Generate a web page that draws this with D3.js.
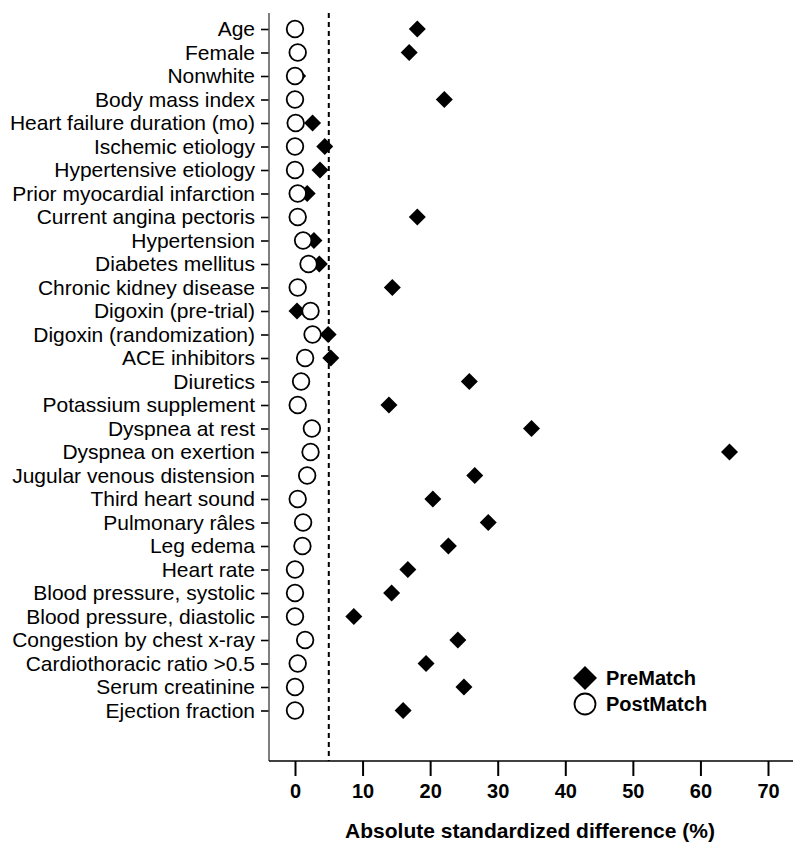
<!DOCTYPE html>
<html>
<head>
<meta charset="utf-8">
<script src="https://cdn.jsdelivr.net/npm/d3@7"></script>
<style>
  html, body { margin: 0; padding: 0; background: #fff; }
  svg { display: block; }
  text { font-family: "Liberation Sans", Arial, sans-serif; }
</style>
</head>
<body>
<svg id="chart" width="800" height="856"></svg>
<script>
const categories = [
  "Age", "Female", "Nonwhite", "Body mass index", "Heart failure duration (mo)",
  "Ischemic etiology", "Hypertensive etiology", "Prior myocardial infarction",
  "Current angina pectoris", "Hypertension", "Diabetes mellitus",
  "Chronic kidney disease", "Digoxin (pre-trial)", "Digoxin (randomization)",
  "ACE inhibitors", "Diuretics", "Potassium supplement", "Dyspnea at rest",
  "Dyspnea on exertion", "Jugular venous distension", "Third heart sound",
  "Pulmonary râles", "Leg edema", "Heart rate", "Blood pressure, systolic",
  "Blood pressure, diastolic", "Congestion by chest x-ray",
  "Cardiothoracic ratio >0.5", "Serum creatinine", "Ejection fraction"
];
const preMatch = [
  18.1, 16.9, 0.4, 22.1, 2.6, 4.4, 3.7, 1.8, 18.1, 2.8,
  3.6, 14.4, 0.3, 4.9, 5.3, 25.8, 13.9, 35.0, 64.3, 26.6,
  20.4, 28.6, 22.7, 16.7, 14.3, 8.7, 24.1, 19.4, 25.0, 16.0
];
const postMatch = [
  0.0, 0.4, 0.0, 0.0, 0.1, 0.0, 0.0, 0.4, 0.4, 1.2,
  2.0, 0.4, 2.3, 2.6, 1.5, 0.9, 0.4, 2.5, 2.3, 1.8,
  0.4, 1.2, 1.1, 0.0, 0.0, 0.0, 1.5, 0.4, 0.0, 0.0
];
const xTicks = [0, 10, 20, 30, 40, 50, 60, 70];
const threshold = 5;
const seriesNames = ["PreMatch", "PostMatch"];
const xTitle = "Absolute standardized difference (%)";

const svg = d3.select("#chart");
const plotLeft = 269, plotRight = 793, plotTop = 13, plotBottom = 761;

const x = d3.scaleLinear().domain([0, 70]).range([295, 768]);
const y = d3.scalePoint().domain(categories).range([29, 710.5]);

// y axis
const yAxis = svg.append("g").attr("transform", `translate(${plotLeft},0)`)
  .call(d3.axisLeft(y).tickSize(8).tickPadding(6));
yAxis.select(".domain").remove();
yAxis.selectAll(".tick line").attr("stroke", "#000").attr("stroke-width", 1.6);
yAxis.selectAll(".tick text").attr("font-size", 21).attr("fill", "#000")
  .style("font-family", "'Liberation Sans', Arial, sans-serif");
svg.append("line").attr("x1", plotLeft).attr("x2", plotLeft).attr("y1", plotTop).attr("y2", plotBottom)
  .attr("stroke", "#555").attr("stroke-width", 1.5);

// x axis
const xAxis = svg.append("g").attr("transform", `translate(0,${plotBottom})`)
  .call(d3.axisBottom(x).tickValues(xTicks).tickSize(15).tickPadding(8).tickFormat(d3.format("d")));
xAxis.select(".domain").remove();
xAxis.selectAll(".tick line").attr("stroke", "#000").attr("stroke-width", 2);
xAxis.selectAll(".tick text").attr("font-size", 20).attr("font-weight", "bold").attr("fill", "#000")
  .style("font-family", "'Liberation Sans', Arial, sans-serif");
svg.append("line").attr("x1", plotLeft).attr("x2", plotRight).attr("y1", plotBottom).attr("y2", plotBottom)
  .attr("stroke", "#000").attr("stroke-width", 1.5);

svg.append("text").attr("x", 530).attr("y", 838).attr("text-anchor", "middle")
  .attr("font-size", 21).attr("font-weight", "bold").text(xTitle);

// threshold
svg.append("line").attr("x1", x(threshold)).attr("x2", x(threshold))
  .attr("y1", plotTop).attr("y2", plotBottom)
  .attr("stroke", "#000").attr("stroke-width", 2).attr("stroke-dasharray", "5,4");

function diamondPath(h) { return `M0,${-h}L${h},0L0,${h}L${-h},0Z`; }

// PreMatch diamonds
svg.append("g").selectAll("path").data(categories).join("path")
  .attr("transform", (d, i) => `translate(${x(preMatch[i])},${y(d)})`)
  .attr("d", diamondPath(8.5)).attr("fill", "#000");

// PostMatch circles
svg.append("g").selectAll("circle").data(categories).join("circle")
  .attr("cx", (d, i) => x(postMatch[i])).attr("cy", d => y(d))
  .attr("r", 8.3).attr("fill", "#fff").attr("stroke", "#000").attr("stroke-width", 1.8);

// legend
const lg = svg.append("g");
lg.append("path").attr("transform", "translate(585,678)").attr("d", diamondPath(12)).attr("fill", "#000");
lg.append("circle").attr("cx", 585).attr("cy", 704).attr("r", 10.5)
  .attr("fill", "#fff").attr("stroke", "#000").attr("stroke-width", 1.8);
lg.append("text").attr("x", 606).attr("y", 685).attr("font-size", 20).attr("font-weight", "bold").text(seriesNames[0]);
lg.append("text").attr("x", 606).attr("y", 711).attr("font-size", 20).attr("font-weight", "bold").text(seriesNames[1]);
</script>
</body>
</html>
